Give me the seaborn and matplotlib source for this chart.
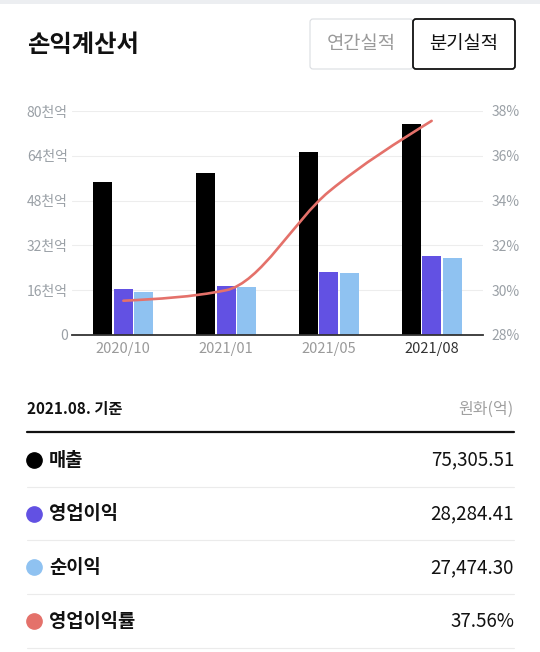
import numpy as np
import pandas as pd
import seaborn as sns
import matplotlib.pyplot as plt
from matplotlib.path import Path
from matplotlib.patches import PathPatch, FancyBboxPatch, Rectangle
from matplotlib.lines import Line2D

# 데이터 (단위: 억원, %)
quarters = ['2020/10', '2021/01', '2021/05', '2021/08']
sales = [54600, 58000, 65500, 75305.51]
op_income = [16400, 17500, 22600, 28284.41]
net_income = [15400, 17000, 22100, 27474.30]
op_margin = [29.53, 30.0, 34.4, 37.56]

series_names = ['매출', '영업이익', '순이익', '영업이익률']
colors = ['#000000', '#6251e3', '#8fc2f1', '#e4716a']
left_ticks = [0, 16, 32, 48, 64, 80]
left_labels = ['0', '16천억', '32천억', '48천억', '64천억', '80천억']
right_ticks = [28, 30, 32, 34, 36, 38]
right_labels = [f'{t}%' for t in right_ticks]

W, H = 540, 652
sns.set_style('white')
plt.rcParams['font.family'] = ['Noto Sans CJK KR', 'DejaVu Sans']

fig = plt.figure(figsize=(W / 100, H / 100), dpi=100)
fig.patch.set_facecolor('white')

df = pd.DataFrame({
    'quarter': quarters * 3,
    'series': np.repeat(series_names[:3], len(quarters)),
    'value': np.array(sales + op_income + net_income) / 1000,  # 천억
})

ax = fig.add_axes([72 / W, 1 - 335 / H, 411 / W, 224 / H])
sns.barplot(data=df, x='quarter', y='value', hue='series', palette=colors[:3],
            width=0.6, gap=0.07, saturation=1, linewidth=0, legend=False, ax=ax)
ax.set_ylim(0, 80)
ax.set_yticks(left_ticks, left_labels)
ax.set_xlabel('')
ax.set_ylabel('')
ax.yaxis.grid(True, color='#ededed', lw=0.8)
ax.set_axisbelow(True)
for s in ['top', 'left', 'right']:
    ax.spines[s].set_visible(False)
ax.spines['bottom'].set_color('#333333')
ax.spines['bottom'].set_linewidth(1.3)
ax.tick_params(axis='y', length=0, pad=3, labelsize=10, labelcolor='#9aa0a6')
ax.tick_params(axis='x', length=0, pad=5, labelsize=10.5, labelcolor='#9a9a9a')
ax.get_xticklabels()[-1].set_color('#333333')


# 영업이익률 곡선 (monotone cubic)
def monotone_path(xs, ys):
    xs, ys = np.asarray(xs, float), np.asarray(ys, float)
    h = np.diff(xs)
    s = np.diff(ys) / h
    m = np.zeros_like(ys)
    for i in range(1, len(ys) - 1):
        if s[i - 1] * s[i] > 0:
            p = (s[i - 1] * h[i] + s[i] * h[i - 1]) / (h[i - 1] + h[i])
            m[i] = (np.sign(s[i - 1]) + np.sign(s[i])) * min(abs(s[i - 1]), abs(s[i]), 0.5 * abs(p))
    m[0] = (3 * s[0] - m[1]) / 2
    m[-1] = (3 * s[-1] - m[-2]) / 2
    verts = [(xs[0], ys[0])]
    codes = [Path.MOVETO]
    for i in range(len(xs) - 1):
        d = h[i] / 3
        verts += [(xs[i] + d, ys[i] + m[i] * d), (xs[i + 1] - d, ys[i + 1] - m[i + 1] * d), (xs[i + 1], ys[i + 1])]
        codes += [Path.CURVE4] * 3
    return Path(verts, codes)


ax2 = ax.twinx()
ax2.add_patch(PathPatch(monotone_path(np.arange(len(quarters)), op_margin),
                        facecolor='none', edgecolor=colors[3], lw=1.9, capstyle='round'))
ax2.set_ylim(28, 38)
ax2.set_yticks(right_ticks, right_labels)
ax2.tick_params(axis='y', length=0, pad=6, labelsize=10, labelcolor='#9aa0a6')
for s in ax2.spines.values():
    s.set_visible(False)
ax.set_xlim(-0.5, len(quarters) - 0.5)

# 상단 헤더
tr = fig.dpi_scale_trans
fig.add_artist(Rectangle((0, (H - 4) / 100), W / 100, 4 / 100, transform=tr, color='#eceef1', lw=0))
fig.text(27 / W, 1 - 45 / H, '손익계산서', fontsize=17.5, weight='bold', va='center', color='#111111')
fig.add_artist(FancyBboxPatch((310 / 100, (H - 69) / 100), 103 / 100, 50 / 100, transform=tr,
                              boxstyle='round,pad=0,rounding_size=0.03', fc='white', ec='#dadde1', lw=0.8))
fig.add_artist(FancyBboxPatch((413 / 100, (H - 69) / 100), 102 / 100, 50 / 100, transform=tr,
                              boxstyle='round,pad=0,rounding_size=0.03', fc='white', ec='#111111', lw=1.3))
fig.text(361 / W, 1 - 44 / H, '연간실적', fontsize=13.5, color='#9a9a9a', ha='center', va='center')
fig.text(464 / W, 1 - 44 / H, '분기실적', fontsize=13.5, color='#111111', ha='center', va='center')

# 하단 표
fig.text(27 / W, 1 - 409 / H, quarters[-1].replace('/', '.') + '. 기준', fontsize=11, weight='bold',
         va='center', color='#111111')
fig.text(514 / W, 1 - 409 / H, '원화(억)', fontsize=11.5, color='#a0a0a0', ha='right', va='center')
fig.add_artist(Line2D([27 / W, 514 / W], [1 - 432 / H] * 2, color='#111111', lw=1.6))

latest = [f'{sales[-1]:,.2f}', f'{op_income[-1]:,.2f}', f'{net_income[-1]:,.2f}', f'{op_margin[-1]:.2f}%']
for i, (name, val, c) in enumerate(zip(series_names, latest, colors)):
    y = 460 + i * 53.7
    fig.add_artist(Line2D([34 / W], [1 - y / H], marker='o', markersize=11, color=c, lw=0))
    fig.text(49 / W, 1 - y / H, name, fontsize=13.5, weight='bold', va='center', color='#111111')
    fig.text(514 / W, 1 - y / H, val, fontsize=13.5, va='center', ha='right', color='#111111')
    fig.add_artist(Line2D([27 / W, 514 / W], [1 - (y + 26.7) / H] * 2, color='#ebebeb', lw=0.8))

plt.savefig('out.png', dpi=100)
